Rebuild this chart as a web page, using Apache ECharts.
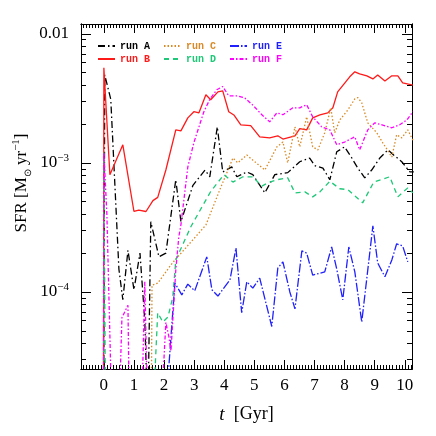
<!DOCTYPE html>
<html>
<head>
<meta charset="utf-8">
<script src="https://cdn.jsdelivr.net/npm/echarts@6/dist/echarts.min.js"></script>
<style>
  html, body { margin: 0; padding: 0; background: #fff; }
  #chart { width: 436px; height: 436px; }
</style>
</head>
<body>
<div id="chart"></div>
<script>
// SFR of the six runs, [t in Gyr, SFR in Msun/yr]
// values far below the axis (1e-5 and less) just make the lines drop out of the frame
const runA = [[-0.02,1e-6],[0.03,4.8e-3],[0.23,3.1e-3],[0.5,1.5e-4],[0.63,8.7e-5],[0.8,2.1e-4],[1.0,1.04e-4],[1.2,2.0e-4],[1.36,6e-5],[1.46,1e-5],
  [1.56,3.5e-4],[1.83,1.87e-4],[2.06,2.0e-4],[2.39,7.4e-4],[2.56,3.5e-4],[2.96,6.7e-4],[3.36,8.8e-4],[3.52,7.8e-4],[3.77,1.9e-3],[3.95,8.5e-4],
  [4.25,9.3e-4],[4.42,7.8e-4],[4.75,8.5e-4],[4.95,8.1e-4],[5.35,5.85e-4],[5.68,8.1e-4],[6.11,8.4e-4],[6.51,1.02e-3],[6.84,1.09e-3],[7.01,9.5e-4],
  [7.28,9.1e-4],[7.51,7.4e-4],[7.74,1.22e-3],[8.0,1.33e-3],[8.24,1.09e-3],[8.44,9.1e-4],[8.67,7.65e-4],[8.9,8.8e-4],[9.17,1.09e-3],[9.44,1.26e-3],
  [9.63,1.15e-3],[9.9,1.02e-3],[10.17,8.5e-4],[10.3,8.5e-4]];
const runB = [[-0.02,1e-6],[0.0,5.45e-3],[0.2,8.1e-4],[0.63,1.38e-3],[1.0,4.2e-4],[1.16,4.3e-4],[1.4,4.2e-4],[1.63,5.1e-4],[1.79,5.4e-4],[2.06,8.8e-4],
  [2.39,1.8e-3],[2.56,1.77e-3],[2.79,2.23e-3],[2.99,2.49e-3],[3.16,2.44e-3],[3.39,3.37e-3],[3.55,3.08e-3],[3.79,3.55e-3],[3.95,3.61e-3],[4.15,2.49e-3],
  [4.32,2.35e-3],[4.55,1.97e-3],[4.88,1.94e-3],[5.18,1.59e-3],[5.51,1.56e-3],[5.78,1.62e-3],[5.95,1.53e-3],[6.35,1.62e-3],[6.51,1.84e-3],[6.74,1.8e-3],
  [6.94,2.23e-3],[7.18,2.35e-3],[7.44,2.44e-3],[7.61,2.67e-3],[7.77,3.55e-3],[8.01,4.17e-3],[8.17,4.64e-3],[8.34,5.07e-3],[8.5,4.89e-3],[8.74,4.72e-3],
  [8.94,4.47e-3],[9.1,4.8e-3],[9.34,4.3e-3],[9.57,4.72e-3],[9.77,4.72e-3],[9.93,4.17e-3],[10.27,4.0e-3]];
const runC = [[1.55,1e-6],[1.6,1.13e-4],[1.79,1.17e-4],[2.23,1.62e-4],[2.39,1.8e-4],[2.72,2.19e-4],[3.39,3.3e-4],[3.89,6.5e-4],[4.29,1.09e-3],[4.45,1.0e-3],
  [4.75,1.15e-3],[4.95,1.05e-3],[5.35,8.8e-4],[5.75,1.33e-3],[5.95,1.45e-3],[6.11,1.0e-3],[6.35,1.9e-3],[6.51,1.33e-3],[6.74,2.27e-3],[6.94,1.33e-3],
  [7.11,1.26e-3],[7.34,1.71e-3],[7.54,2.67e-3],[7.67,1.71e-3],[7.84,2.15e-3],[8.11,2.57e-3],[8.34,3.13e-3],[8.44,3.2e-3],[8.57,2.92e-3],[8.77,2.04e-3],
  [9.07,1.71e-3],[9.27,1.43e-3],[9.57,1.11e-3],[9.73,1.65e-3],[9.9,1.56e-3],[10.1,1.8e-3],[10.27,1.5e-3]];
const runD = [[-0.02,1e-6],[0.0,1.2e-3],[0.08,1e-6],[1.62,1e-5],[1.79,6.9e-5],[1.96,5.85e-5],[2.13,6.4e-5],[2.29,9.1e-5],[2.39,1.77e-4],[2.89,3.2e-4],
  [3.55,6.0e-4],[3.99,8.1e-4],[4.29,7.1e-4],[4.62,7.8e-4],[4.95,7.8e-4],[5.25,6.6e-4],[5.45,7.0e-4],[5.75,7.4e-4],[6.11,7.65e-4],[6.35,5.85e-4],
  [6.68,5.96e-4],[6.94,5.45e-4],[7.18,5.96e-4],[7.51,7.2e-4],[7.84,6.3e-4],[8.11,6.2e-4],[8.6,4.9e-4],[8.97,7.1e-4],[9.5,7.8e-4],[9.77,5.45e-4],
  [10.1,6.4e-4],[10.27,5.85e-4]];
const runE = [[2.03,1e-5],[2.23,4.5e-5],[2.36,1.17e-4],[2.59,9.5e-5],[2.79,1.15e-4],[3.02,1.02e-4],[3.42,1.87e-4],[3.59,1.04e-4],[3.79,9.3e-5],[4.19,1.24e-4],
  [4.39,2.19e-4],[4.58,6.9e-5],[4.75,1.2e-4],[4.95,1.07e-4],[5.18,1.28e-4],[5.58,5.4e-5],[5.78,1.53e-4],[5.95,1.71e-4],[6.18,1.0e-4],[6.35,7.4e-5],
  [6.58,2.08e-4],[6.74,2.0e-4],[6.94,1.35e-4],[7.34,1.43e-4],[7.57,2.23e-4],[7.74,1.5e-4],[7.94,8.7e-5],[8.14,2.23e-4],[8.34,1.43e-4],[8.57,5.85e-5],
  [8.94,3.25e-4],[9.1,1.68e-4],[9.34,1.31e-4],[9.57,1.77e-4],[9.73,2.36e-4],[9.93,2.27e-4],[10.1,1.71e-4]];
const runF = [[-0.02,1e-6],[0.0,1.2e-3],[0.1,4e-4],[0.27,1e-5],[0.5,1e-5],[0.6,6.3e-5],[0.8,7.9e-5],[0.85,1e-5],[1.25,1e-5],[1.36,1.2e-4],[1.46,1e-5],
  [1.93,1.5e-5],[2.06,5.8e-5],[2.16,4.5e-5],[2.23,3.5e-5],[2.39,1.48e-4],[2.49,2.67e-4],[2.56,3.3e-4],[2.79,9.3e-4],[2.99,1.43e-3],[3.32,2.48e-3],
  [3.52,3.1e-3],[3.75,3.68e-3],[3.95,3.9e-3],[4.15,3.3e-3],[4.45,3.3e-3],[4.68,3.19e-3],[4.95,2.8e-3],[5.25,2.36e-3],[5.51,2.08e-3],[5.75,2.44e-3],
  [5.95,2.36e-3],[6.28,2.67e-3],[6.51,2.67e-3],[6.74,2.82e-3],[6.94,2.27e-3],[7.24,1.9e-3],[7.51,1.8e-3],[7.74,1.38e-3],[8.0,1.45e-3],[8.34,1.59e-3],
  [8.5,1.26e-3],[8.77,1.8e-3],[9.0,2.04e-3],[9.24,1.97e-3],[9.57,1.87e-3],[9.83,1.97e-3],[10.07,2.15e-3],[10.27,2.49e-3]];

const runNames = ['run A', 'run B', 'run C', 'run D', 'run E', 'run F'];
const xTickLabels = [0, 1, 2, 3, 4, 5, 6, 7, 8, 9, 10];
const yTickLabels = [1e-4, 1e-3, 1e-2];

const XMIN = -0.76, XMAX = 10.24;
const YMIN = 2.53e-5, YMAX = 0.0119;

const colors = ['#000000', '#ff1a1a', '#d98a26', '#1ec878', '#1f1fff', '#ff00ff'];
const dashes = [[7, 3, 1.5, 3], 'solid', [1.5, 2], [5, 4], [9, 2, 1.5, 2], [4, 2, 1.5, 2]];
const allRuns = [runA, runB, runC, runD, runE, runF];

// minor tick positions
const xMinor = [];
for (let i = -7; i <= 102; i++) {
    if (i % 10 !== 0) xMinor.push(i / 10);
}
const yMinor = [];
for (let e = -5; e <= -3; e++) {
    for (let k = 2; k <= 9; k++) {
        let v = k * Math.pow(10, e);
        if (v > YMIN && v < YMAX) yMinor.push(v);
    }
}

const serif = 'Liberation Serif';

function xAxisDef(pos, ticks, len, labels) {
    return {
        type: 'value', min: XMIN, max: XMAX, position: pos,
        axisLine: { show: true, onZero: false, lineStyle: { color: '#000', width: 1 } },
        axisTick: { show: true, inside: true, length: len, customValues: ticks, lineStyle: { color: '#000', width: 1 } },
        axisLabel: labels ? { show: true, customValues: ticks, margin: 8, color: '#000', fontFamily: serif, fontSize: 17 } : { show: false },
        splitLine: { show: false }
    };
}

function yAxisDef(pos, ticks, len, labels) {
    return {
        type: 'log', logBase: 10, min: YMIN, max: YMAX, position: pos,
        axisLine: { show: true, onZero: false, lineStyle: { color: '#000', width: 1 } },
        axisTick: { show: true, inside: true, length: len, customValues: ticks, lineStyle: { color: '#000', width: 1 } },
        axisLabel: labels ? {
            show: true, customValues: ticks, margin: 12, color: '#000',
            formatter: function (v) {
                let e = Math.round(Math.log10(v));
                if (e === -2) return '{b|0.01}';
                return '{b|10}{s|\u2212' + (-e) + '}';
            },
            rich: {
                b: { fontFamily: serif, fontSize: 17, lineHeight: 20, color: '#000' },
                s: { fontFamily: serif, fontSize: 11, lineHeight: 12, verticalAlign: 'top', color: '#000' }
            }
        } : { show: false },
        splitLine: { show: false }
    };
}

const chart = echarts.init(document.getElementById('chart'));

const legendText = { fontFamily: 'Liberation Mono', fontWeight: 'bold', fontSize: 10 };
function legendDef(idx, top) {
    return {
        data: idx.map(i => ({ name: runNames[i], textStyle: { color: colors[i] } })),
        left: 97, top: top, padding: 0, itemWidth: 17, itemHeight: 8, itemGap: 13,
        selectedMode: false, textStyle: legendText,
        itemStyle: { opacity: 0 }
    };
}

const option = {
    animation: false,
    backgroundColor: '#fff',
    grid: { left: 81, right: 24, top: 24, bottom: 67 },
    legend: [legendDef([0, 2, 4], 41), legendDef([1, 3, 5], 54)],
    xAxis: [
        Object.assign(xAxisDef('bottom', xTickLabels, 9, true), {
            name: '{i|t}{n|  [Gyr]}', nameLocation: 'middle', nameGap: 36,
            nameTextStyle: {
                rich: {
                    i: { fontFamily: serif, fontStyle: 'italic', fontSize: 19, color: '#000' },
                    n: { fontFamily: serif, fontSize: 18, color: '#000' }
                }
            }
        }),
        xAxisDef('bottom', xMinor, 4, false),
        xAxisDef('top', xTickLabels, 9, false),
        xAxisDef('top', xMinor, 4, false)
    ],
    yAxis: [
        yAxisDef('left', yTickLabels, 10, true),
        yAxisDef('left', yMinor, 5, false),
        yAxisDef('right', yTickLabels, 10, false),
        yAxisDef('right', yMinor, 5, false)
    ],
    graphic: [{
        type: 'text', x: 22, y: 183, rotation: Math.PI / 2,
        style: {
            text: '{a|SFR [M}{o|\u2299}{a| yr}{p|\u22121}{a|]}',
            align: 'center', verticalAlign: 'middle',
            rich: {
                a: { fontFamily: serif, fontSize: 17, lineHeight: 22, fill: '#000' },
                o: { fontFamily: serif, fontSize: 10, lineHeight: 10, verticalAlign: 'bottom', fill: '#000' },
                p: { fontFamily: serif, fontSize: 11, lineHeight: 12, verticalAlign: 'top', fill: '#000' }
            }
        }
    }],
    series: allRuns.map((d, i) => ({
        name: runNames[i],
        type: 'line',
        data: d,
        xAxisIndex: 0, yAxisIndex: 0,
        showSymbol: false, symbol: 'none',
        clip: true,
        color: colors[i],
        lineStyle: { color: colors[i], width: 1.3, type: dashes[i] }
    }))
};

chart.setOption(option);
</script>
</body>
</html>
